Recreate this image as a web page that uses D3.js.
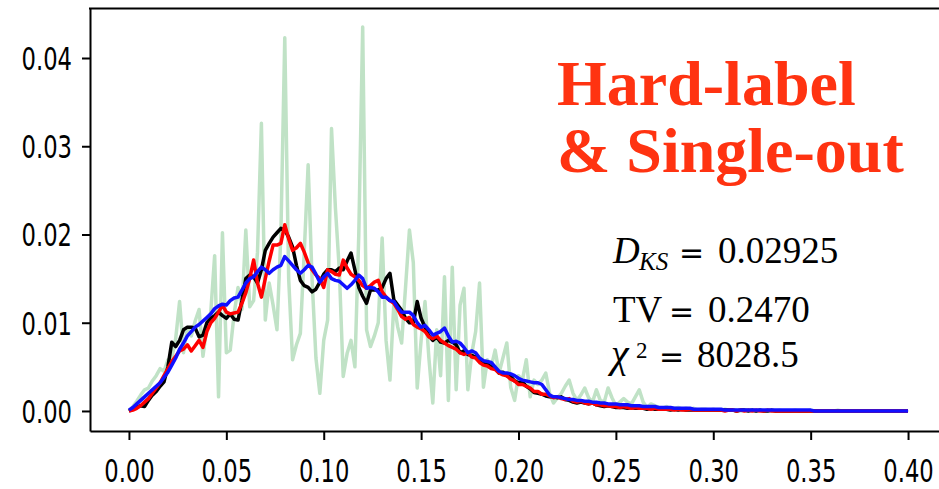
<!DOCTYPE html>
<html><head><meta charset="utf-8">
<script src="https://cdn.jsdelivr.net/npm/d3@7"></script>
<style>html,body{margin:0;padding:0;background:#fff;overflow:hidden}</style>
</head><body><svg id="c" width="939" height="489"></svg>
<script>
// bin positions (step 0.002 from 0 to 0.4)
const binStep = 0.002;
const xTicks = [0, 0.05, 0.10, 0.15, 0.20, 0.25, 0.30, 0.35, 0.40];
const xTickLabels = ["0.00","0.05","0.10","0.15","0.20","0.25","0.30","0.35","0.40"];
const yTicks = [0, 0.01, 0.02, 0.03, 0.04];
const yTickLabels = ["0.00","0.01","0.02","0.03","0.04"];

const greenVals = [
0,0.0005,0.0011,0.0018,0.0024,0.0026,0.0034,0.0040,0.0048,0.0045,
0.0058,0.0060,0.0082,0.0124,0.0066,0.0095,0.0085,0.0102,0.0115,0.0062,
0.0095,0.0112,0.0176,0.0016,0.0202,0.0066,0.0069,0.0110,0.0140,0.0115,
0.0205,0.0118,0.0125,0.0180,0.0326,0.0103,0.0145,0.0120,0.0092,0.0200,
0.0423,0.0150,0.0058,0.0075,0.0088,0.0180,0.0279,0.0150,0.0060,0.0020,
0.0080,0.0103,0.0320,0.0230,0.0160,0.0039,0.0065,0.0080,0.0050,0.0200,
0.0435,0.0092,0.0073,0.0085,0.0100,0.0196,0.0080,0.0035,0.0122,0.0095,
0.0077,0.0140,0.0205,0.0168,0.0026,0.0080,0.0124,0.0060,0.0009,0.0092,
0.0040,0.0152,0.0012,0.0163,0.0024,0.0120,0.0139,0.0024,0.0065,0.0090,
0.0145,0.0027,0.0058,0.0050,0.0069,0.0043,0.0060,0.0077,0.0027,0.0012,
0.0040,0.0035,0.0058,0.0016,0.0035,0.0030,0.0035,0.0043,0.0020,0.0009,
0.0015,0.0020,0.0028,0.0035,0.0020,0.0012,0.0018,0.0026,0.0015,0.0010,
0.0024,0.0012,0.0010,0.0026,0.0015,0.0006,0.0010,0.0014,0.0010,0.0008,
0.0016,0.0024,0.0010,0.0004,0.0008,0.0006,0.0004,0.0003,0.0005,0.0002,
0.0003,0.0004,0.0002,0.0003,0.0002,0.0003,0.0001,0.0002,0.0002,0.0001,
0.0002,0.0001,0.0001,0.0002,0.0001,0.0001,0.0001,0.0000,0.0001,0.0001,
0.0001,0.0000,0.0001,0.0000,0.0001,0.0000,0.0000,0.0001,0.0000,0.0000,
0.0000,0.0001,0.0000,0.0000,0.0000,0.0001,0.0000,0.0000,0.0000,0.0000,
0.0000,0.0000,0.0001,0.0000,0.0000,0.0000,0.0000,0.0000,0.0000,0.0000,
0.0000,0.0000,0.0000,0.0000,0.0000,0.0000,0.0000,0.0000,0.0000,0.0000,
0.0000];

const blackVals = [
0,0.0002,0.0004,0.0006,0.0005,0.0012,0.0018,0.0022,0.0028,0.0033,
0.0050,0.0078,0.0073,0.0080,0.0092,0.0095,0.0095,0.0094,0.0084,0.0086,
0.0100,0.0105,0.0108,0.0112,0.0108,0.0105,0.0110,0.0104,0.0103,0.0125,
0.0150,0.0154,0.0152,0.0145,0.0160,0.0182,0.0190,0.0197,0.0202,0.0207,
0.0205,0.0197,0.0186,0.0165,0.0148,0.0142,0.0140,0.0135,0.0138,0.0146,
0.0155,0.0160,0.0160,0.0158,0.0162,0.0160,0.0170,0.0179,0.0160,0.0140,
0.0130,0.0122,0.0137,0.0137,0.0137,0.0140,0.0150,0.0156,0.0126,0.0120,
0.0114,0.0105,0.0100,0.0100,0.0124,0.0105,0.0095,0.0085,0.0080,0.0084,
0.0078,0.0077,0.0080,0.0078,0.0075,0.0066,0.0068,0.0064,0.0063,0.0061,
0.0058,0.0054,0.0053,0.0050,0.0048,0.0043,0.0044,0.0040,0.0039,0.0034,
0.0032,0.0033,0.0028,0.0025,0.0021,0.0020,0.0019,0.0017,0.0016,0.0016,
0.0015,0.0016,0.0013,0.0012,0.0010,0.0009,0.0010,0.0009,0.0008,0.0009,
0.0007,0.0006,0.0005,0.0006,0.0005,0.0004,0.0004,0.0004,0.0003,0.0004,
0.0003,0.0003,0.0003,0.0002,0.0003,0.0002,0.0002,0.0002,0.0002,0.0001,
0.0002,0.0001,0.0002,0.0001,0.0001,0.0001,0.0001,0.0001,0.0001,0.0001,
0.0001,0.0001,0.0001,0.0001,0.0001,0.0001,0.0000,0.0001,0.0001,0.0000,
0.0001,0.0000,0.0001,0.0000,0.0000,0.0001,0.0000,0.0000,0.0000,0.0000,
0.0000,0.0000,0.0000,0.0000,0.0000,0.0000,0.0000,0.0000,0.0000,0.0000,
0.0000,0.0000,0.0000,0.0000,0.0000,0.0000,0.0000,0.0000,0.0000,0.0000,
0.0000,0.0000,0.0000,0.0000,0.0000,0.0000,0.0000,0.0000,0.0000,0.0000,
0.0000];

const redVals = [
0,0.0001,0.0003,0.0006,0.0010,0.0014,0.0020,0.0026,0.0032,0.0040,
0.0048,0.0056,0.0062,0.0068,0.0070,0.0075,0.0068,0.0074,0.0080,0.0072,
0.0090,0.0100,0.0105,0.0112,0.0120,0.0112,0.0110,0.0111,0.0112,0.0122,
0.0134,0.0150,0.0171,0.0145,0.0129,0.0150,0.0170,0.0188,0.0188,0.0190,
0.0211,0.0195,0.0182,0.0185,0.0190,0.0180,0.0168,0.0160,0.0154,0.0150,
0.0140,0.0160,0.0158,0.0155,0.0154,0.0171,0.0162,0.0155,0.0152,0.0148,
0.0142,0.0139,0.0142,0.0146,0.0148,0.0135,0.0129,0.0125,0.0122,0.0115,
0.0107,0.0104,0.0106,0.0098,0.0095,0.0093,0.0090,0.0084,0.0082,0.0085,
0.0080,0.0077,0.0074,0.0072,0.0070,0.0066,0.0064,0.0066,0.0061,0.0060,
0.0055,0.0052,0.0051,0.0048,0.0047,0.0043,0.0041,0.0040,0.0036,0.0034,
0.0030,0.0030,0.0028,0.0026,0.0022,0.0022,0.0019,0.0019,0.0017,0.0015,
0.0016,0.0014,0.0013,0.0014,0.0011,0.0010,0.0011,0.0009,0.0008,0.0009,
0.0007,0.0007,0.0006,0.0006,0.0005,0.0005,0.0004,0.0005,0.0004,0.0003,
0.0004,0.0003,0.0003,0.0003,0.0002,0.0003,0.0002,0.0002,0.0002,0.0002,
0.0001,0.0002,0.0001,0.0001,0.0002,0.0001,0.0001,0.0001,0.0001,0.0001,
0.0001,0.0001,0.0001,0.0000,0.0001,0.0001,0.0000,0.0001,0.0000,0.0001,
0.0000,0.0001,0.0000,0.0000,0.0001,0.0000,0.0000,0.0000,0.0000,0.0000,
0.0000,0.0000,0.0000,0.0000,0.0000,0.0000,0.0000,0.0000,0.0000,0.0000,
0.0000,0.0000,0.0000,0.0000,0.0000,0.0000,0.0000,0.0000,0.0000,0.0000,
0.0000,0.0000,0.0000,0.0000,0.0000,0.0000,0.0000,0.0000,0.0000,0.0000,
0.0000];

const blueVals = [
0.0001,0.0004,0.0008,0.0012,0.0016,0.0020,0.0024,0.0028,0.0032,0.0038,
0.0044,0.0052,0.0060,0.0070,0.0077,0.0085,0.0090,0.0095,0.0098,0.0102,
0.0106,0.0110,0.0116,0.0119,0.0121,0.0120,0.0125,0.0128,0.0129,0.0137,
0.0145,0.0150,0.0152,0.0158,0.0163,0.0160,0.0156,0.0160,0.0163,0.0165,
0.0175,0.0170,0.0165,0.0160,0.0156,0.0160,0.0165,0.0163,0.0155,0.0146,
0.0152,0.0156,0.0150,0.0148,0.0147,0.0143,0.0139,0.0143,0.0148,0.0154,
0.0150,0.0139,0.0140,0.0139,0.0135,0.0129,0.0129,0.0125,0.0124,0.0117,
0.0112,0.0112,0.0112,0.0108,0.0100,0.0095,0.0097,0.0092,0.0086,0.0088,
0.0090,0.0094,0.0085,0.0078,0.0079,0.0077,0.0072,0.0066,0.0068,0.0066,
0.0060,0.0057,0.0056,0.0055,0.0050,0.0045,0.0043,0.0043,0.0042,0.0040,
0.0037,0.0035,0.0034,0.0033,0.0032,0.0032,0.0030,0.0024,0.0018,0.0016,
0.0016,0.0015,0.0014,0.0013,0.0013,0.0012,0.0012,0.0011,0.0011,0.0010,
0.0010,0.0009,0.0009,0.0008,0.0008,0.0008,0.0007,0.0007,0.0007,0.0006,
0.0006,0.0006,0.0005,0.0005,0.0005,0.0005,0.0004,0.0004,0.0004,0.0004,
0.0003,0.0003,0.0003,0.0003,0.0003,0.0002,0.0002,0.0002,0.0002,0.0002,
0.0002,0.0002,0.0002,0.0001,0.0001,0.0001,0.0001,0.0001,0.0001,0.0001,
0.0001,0.0001,0.0001,0.0001,0.0001,0.0001,0.0001,0.0001,0.0001,0.0001,
0.0001,0.0001,0.0001,0.0001,0.0001,0.0001,0.0000,0.0000,0.0000,0.0000,
0.0000,0.0000,0.0000,0.0000,0.0000,0.0000,0.0000,0.0000,0.0000,0.0000,
0.0000,0.0000,0.0000,0.0000,0.0000,0.0000,0.0000,0.0000,0.0000,0.0000,
0.0000];

const seriesColors = {green: "rgb(192,226,198)", black: "#000000", red: "#ff0000", blue: "#1010ff"};

const svg = d3.select("#c");
const plotLeft = 90, plotRight = 947, plotTop = 8.5, plotBottom = 431;
const x = d3.scaleLinear().domain([-0.02, 0.42]).range([plotLeft, plotRight]);
const y = d3.scaleLinear().domain([-0.00227, 0.04561]).range([plotBottom, plotTop]);

const binX = greenVals.map((_, i) => i * binStep);

const line = d3.line().x((d, i) => x(binX[i])).y(d => y(d));

const series = [
  {vals: greenVals, color: seriesColors.green, w: 3.5},
  {vals: blackVals, color: seriesColors.black, w: 3.5},
  {vals: redVals, color: seriesColors.red, w: 3.5},
  {vals: blueVals, color: seriesColors.blue, w: 3.5}
];
svg.append("g").selectAll("path").data(series).join("path")
  .attr("d", d => line(d.vals))
  .attr("fill", "none")
  .attr("stroke", d => d.color)
  .attr("stroke-width", d => d.w)
  .attr("stroke-linejoin", "round")
  .attr("stroke-linecap", "butt");

// axes
const fx = d3.axisBottom(x).tickValues(xTicks).tickFormat((d, i) => xTickLabels[i]).tickSize(9).tickSizeOuter(0);
const gx = svg.append("g").attr("transform", `translate(0,${plotBottom})`).call(fx);
const fy = d3.axisLeft(y).tickValues(yTicks).tickFormat((d, i) => yTickLabels[i]).tickSize(8).tickSizeOuter(0);
const gy = svg.append("g").attr("transform", `translate(${plotLeft},0)`).call(fy);

[gx, gy].forEach(g => {
  g.select(".domain").attr("stroke", "#000").attr("stroke-width", 2);
  g.selectAll(".tick line").attr("stroke", "#000").attr("stroke-width", 2);
  g.selectAll("text").attr("font-family", "DejaVu Sans").attr("font-size", 31.5).attr("fill", "#000");
});
const sx = 0.72;
gx.selectAll("text").attr("y", 51).attr("dy", null).attr("transform", `scale(${sx},1)`);
gy.selectAll("text").attr("x", -18 / sx).attr("dy", null).attr("y", 11.5).attr("transform", `scale(${sx},1)`);

// top spine
svg.append("line").attr("x1", plotLeft - 1).attr("x2", plotRight).attr("y1", plotTop).attr("y2", plotTop)
  .attr("stroke", "#000").attr("stroke-width", 2);

// big red label
const labelColor = "#ff3311";
const lab = svg.append("g").attr("font-family", "Liberation Serif").attr("font-weight", "bold")
  .attr("font-size", 64).attr("fill", labelColor);
lab.append("text").attr("x", 557).attr("y", 105).text("Hard-label");
lab.append("text").attr("x", 557).attr("y", 172).text("& Single-out");

// stats
const st = svg.append("g").attr("font-family", "Liberation Serif").attr("fill", "#000");
function t(xp, yp, s, size, italic, fam) {
  const el = st.append("text").attr("x", xp).attr("y", yp).attr("font-size", size)
    .attr("font-style", italic ? "italic" : "normal").text(s);
  if (fam) el.attr("font-family", fam);
}
t(613, 263, "D", 37, true);
t(639, 270, "KS", 25, true);
t(679, 263, "=", 30, false, "DejaVu Sans");
t(718, 263, "0.02925", 37, false);

t(613, 322, "TV", 37, false);
t(669, 322, "=", 30, false, "DejaVu Sans");
t(708, 322, "0.2470", 37, false);

t(611, 367, "χ", 40, true);
t(636, 358, "2", 23, false);
t(659, 367, "=", 30, false, "DejaVu Sans");
t(697, 367, "8028.5", 37, false);
</script>
</body></html>
